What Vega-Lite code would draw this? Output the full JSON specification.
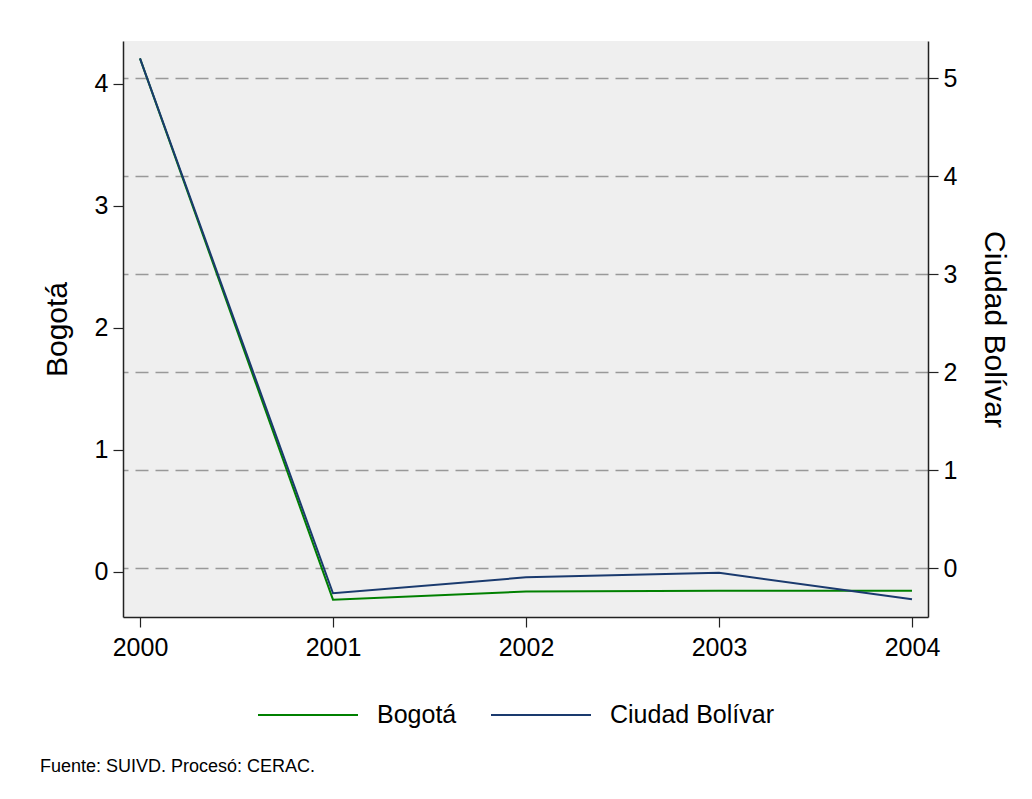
{
  "$schema": "https://vega.github.io/schema/vega-lite/v6.json",
  "width": 805,
  "height": 576,
  "autosize": {"type": "none"},
  "padding": {"left": 123, "top": 41, "right": 104, "bottom": 182},
  "background": "white",
  "config": {
    "font": "Liberation Sans",
    "view": {"fill": "#efefef", "stroke": null},
    "axis": {
      "domainColor": "#222222",
      "tickColor": "#222222",
      "labelColor": "#000000",
      "titleColor": "#000000",
      "titleFontWeight": "normal",
      "grid": false,
      "tickSize": 10,
      "tickWidth": 1.2,
      "domainWidth": 1.5,
      "labelPadding": 5,
      "labelFontSize": 25,
      "titleFontSize": 30
    }
  },
  "data": {
    "values": [
      {"year": 2000, "bogota": 4.21, "cb": 5.20},
      {"year": 2001, "bogota": -0.227, "cb": -0.258},
      {"year": 2002, "bogota": -0.161, "cb": -0.095},
      {"year": 2003, "bogota": -0.153, "cb": -0.048},
      {"year": 2004, "bogota": -0.153, "cb": -0.32}
    ]
  },
  "encoding": {
    "x": {
      "field": "year",
      "type": "quantitative",
      "scale": {"domain": [1999.912, 2004.083], "nice": false, "zero": false},
      "axis": {"values": [2000, 2001, 2002, 2003, 2004], "format": "d", "title": null, "labelPadding": 8}
    }
  },
  "layer": [
    {
      "mark": {"type": "line", "strokeWidth": 2},
      "encoding": {
        "y": {
          "field": "bogota",
          "type": "quantitative",
          "scale": {"domain": [-0.369, 4.352], "nice": false, "zero": false},
          "axis": {"orient": "left", "values": [0, 1, 2, 3, 4], "title": "Bogotá", "titlePadding": 22}
        },
        "color": {
          "datum": "Bogotá",
          "type": "nominal",
          "scale": {"domain": ["Bogotá", "Ciudad Bolívar"], "range": ["#008000", "#1a3a6e"]},
          "legend": {
            "orient": "none",
            "legendX": 134,
            "legendY": 623,
            "direction": "horizontal",
            "title": null,
            "symbolType": "stroke",
            "symbolSize": 10000,
            "symbolStrokeWidth": 2,
            "labelFontSize": 25,
            "labelLimit": 400,
            "labelColor": "#000000",
            "labelOffset": 18,
            "columnPadding": 30
          }
        }
      }
    },
    {
      "mark": {"type": "line", "strokeWidth": 2},
      "encoding": {
        "y": {
          "field": "cb",
          "type": "quantitative",
          "scale": {"domain": [-0.5, 5.378], "nice": false, "zero": false},
          "axis": {
            "orient": "right",
            "values": [0, 1, 2, 3, 4, 5],
            "title": "Ciudad Bolívar",
            "titlePadding": 22,
            "grid": true,
            "gridDash": [13, 7],
            "gridColor": "#999999",
            "gridWidth": 1.3
          }
        },
        "color": {"datum": "Ciudad Bolívar", "type": "nominal"}
      }
    }
  ],
  "resolve": {"scale": {"y": "independent"}},
  "title": {
    "text": "Fuente: SUIVD. Procesó: CERAC.",
    "orient": "bottom",
    "anchor": "start",
    "frame": "group",
    "fontSize": 18,
    "fontWeight": "normal",
    "color": "#000000",
    "dx": -83,
    "offset": 30
  }
}
